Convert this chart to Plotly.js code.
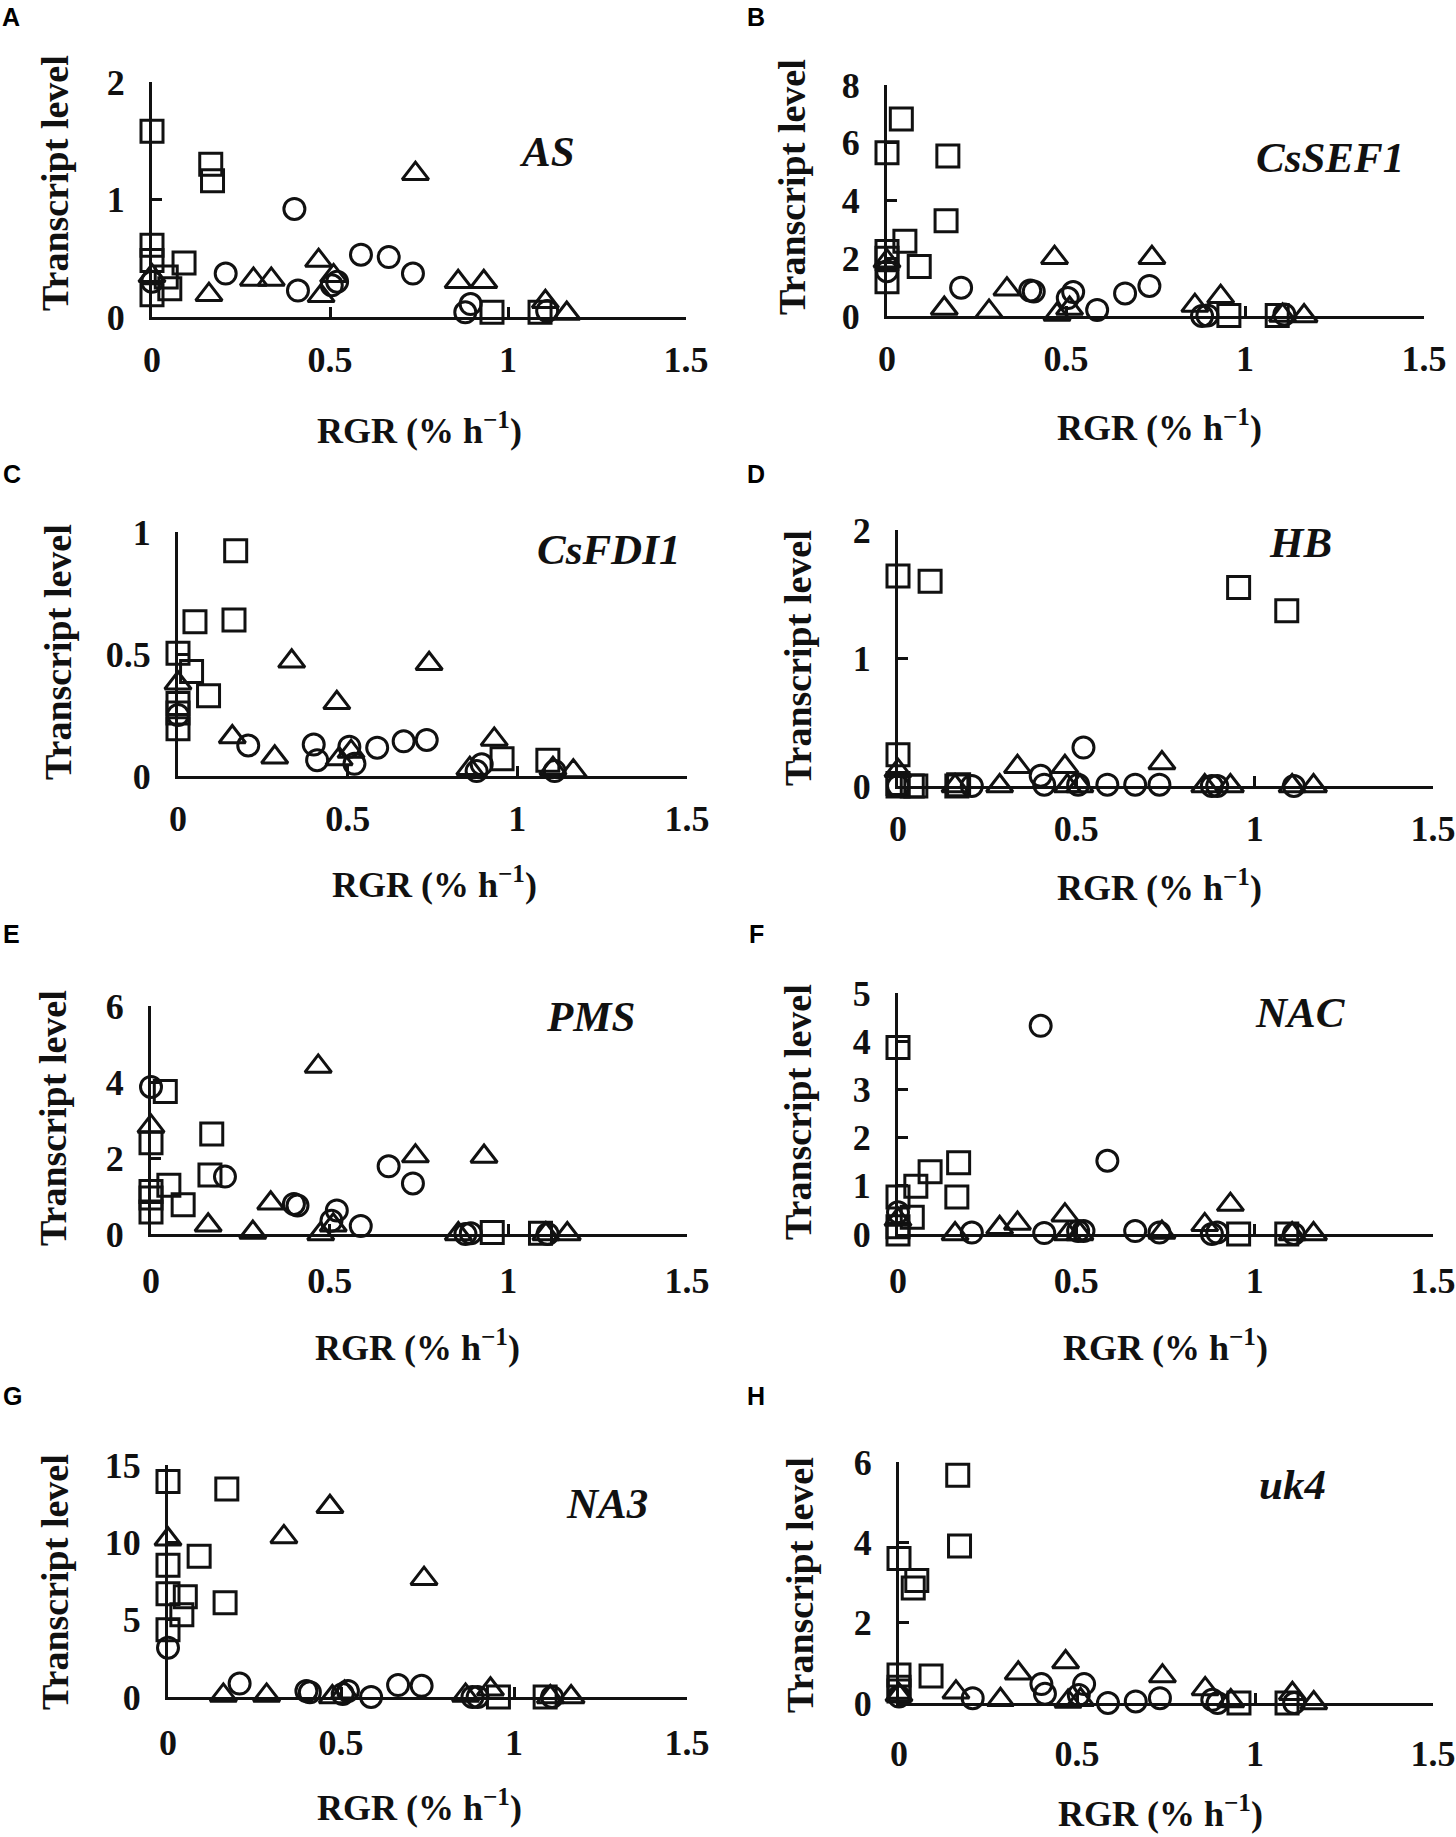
<!DOCTYPE html>
<html><head><meta charset="utf-8">
<script src="https://cdn.plot.ly/plotly-3.0.1.min.js"></script>
<style>html,body{margin:0;padding:0;background:#fff}</style>
</head><body><div id="chart" style="width:1456px;height:1837px"></div>
<script>
// RGR (% h-1) values shared by the samples of each symbol group
const SQ_X = [0, 0, 0, 0, 0.04, 0.05, 0.09, 0.165, 0.17, 0.955, 1.09];
const CI_X = [0, 0.207, 0.40, 0.41, 0.505, 0.52, 0.587, 0.665, 0.733, 0.88, 0.895, 1.11];
const TR_X = [0, 0.16, 0.285, 0.335, 0.468, 0.475, 0.51, 0.74, 0.86, 0.932, 1.105, 1.165];

// Transcript levels per gene: squares, circles, triangles
const AS_SQ = [1.58, 0.61, 0.48, 0.19, 0.34, 0.24, 0.46, 1.30, 1.16, 0.04, 0.04];
const AS_CI = [0.30, 0.37, 0.92, 0.225, 0.27, 0.30, 0.53, 0.51, 0.37, 0.04, 0.11, 0.05];
const AS_TR = [0.35, 0.19, 0.32, 0.32, 0.48, 0.18, 0.35, 1.22, 0.30, 0.30, 0.13, 0.03];

const SEF_SQ = [5.65, 2.23, 2.0, 1.19, 6.82, 2.59, 1.71, 3.30, 5.54, 0.02, 0.02];
const SEF_CI = [1.55, 0.98, 0.88, 0.85, 0.62, 0.83, 0.21, 0.78, 1.04, 0.0, 0.02, 0.05];
const SEF_TR = [1.9, 0.26, 0.16, 0.93, 2.02, 0.05, 0.26, 2.02, 0.36, 0.67, 0.02, 0.0];

const FDI_SQ = [0.503, 0.297, 0.258, 0.194, 0.428, 0.632, 0.329, 0.639, 0.923, 0.071, 0.065];
const FDI_CI = [0.25, 0.125, 0.129, 0.065, 0.12, 0.05, 0.116, 0.142, 0.148, 0.02, 0.048, 0.02];
const FDI_TR = [0.38, 0.16, 0.077, 0.47, 0.30, 0.07, 0.10, 0.46, 0.03, 0.15, 0.03, 0.02];

const HB_SQ = [1.64, 0.245, 0.0, 0.02, 0.0, 0.0, 1.60, 0.0, 0.01, 1.55, 1.37];
const HB_CI = [0.0, 0.0, 0.08, 0.01, 0.01, 0.30, 0.01, 0.01, 0.01, 0.0, 0.0, 0.0];
const HB_TR = [0.12, 0.0, 0.0, 0.15, 0.15, 0.0, 0.0, 0.18, 0.0, 0.0, 0.0, 0.0];

const PMS_SQ = [2.40, 1.12, 0.95, 0.58, 3.75, 1.28, 0.77, 1.55, 2.63, 0.04, 0.02];
const PMS_CI = [3.87, 1.51, 0.79, 0.75, 0.35, 0.62, 0.21, 1.78, 1.33, 0.0, 0.02, 0.0];
const PMS_TR = [2.83, 0.23, 0.04, 0.81, 4.41, 0.0, 0.23, 2.05, 0.0, 2.04, 0.0, 0.0];

const NAC_SQ = [3.87, 0.77, 0.15, 0.0, 0.35, 0.99, 1.29, 0.77, 1.48, 0.0, 0.0];
const NAC_CI = [0.45, 0.03, 4.32, 0.02, 0.06, 0.06, 1.52, 0.06, 0.03, 0.0, 0.03, 0.0];
const NAC_TR = [0.3, 0.0, 0.13, 0.22, 0.39, 0.0, 0.0, 0.03, 0.19, 0.61, 0.0, 0.0];

const NA3_SQ = [13.93, 8.52, 6.68, 4.35, 5.32, 6.48, 9.10, 6.10, 13.45, 0.0, 0.0];
const NA3_CI = [3.19, 0.87, 0.39, 0.30, 0.20, 0.39, 0.0, 0.77, 0.72, 0.0, 0.0, 0.0];
const NA3_TR = [10.2, 0.1, 0.1, 10.35, 12.3, 0.0, 0.3, 7.65, 0.1, 0.5, 0.0, 0.0];

const UK4_SQ = [3.6, 0.70, 0.39, 0.30, 2.86, 3.05, 0.67, 5.67, 3.91, 0.0, 0.0];
const UK4_CI = [0.16, 0.12, 0.47, 0.23, 0.2, 0.47, 0.0, 0.04, 0.12, 0.08, 0.0, 0.0];
const UK4_TR = [0.2, 0.27, 0.08, 0.74, 1.02, 0.04, 0.08, 0.67, 0.35, 0.05, 0.23, 0.0];

const LETTERS = ['A','B','C','D','E','F','G','H'];
const GENES = ['AS','CsSEF1','CsFDI1','HB','PMS','NAC','NA3','uk4'];
const Y_MAX = [2, 8, 1, 2, 6, 5, 15, 6];
const Y_TICKS = [[0,1,2],[0,2,4,6,8],[0,0.5,1],[0,1,2],[0,2,4,6],[0,1,2,3,4,5],[0,5,10,15],[0,2,4,6]];
const X_TICKS = [0, 0.5, 1, 1.5];
const SERIES = [
  [AS_SQ, AS_CI, AS_TR], [SEF_SQ, SEF_CI, SEF_TR], [FDI_SQ, FDI_CI, FDI_TR], [HB_SQ, HB_CI, HB_TR],
  [PMS_SQ, PMS_CI, PMS_TR], [NAC_SQ, NAC_CI, NAC_TR], [NA3_SQ, NA3_CI, NA3_TR], [UK4_SQ, UK4_CI, UK4_TR]
];
const X_TITLE = 'RGR (% h<sup>\u22121</sup>)';
const Y_TITLE = 'Transcript level';

// ---- layout (pixels) ----
const W = 1456, H = 1837;
// [x at 0, x at 1.5, y top, y at 0]
const BOX = [[152,686,82,317],[887,1424,85,316],[178,687,532,776],[898,1433,530,786],
             [151,687,1006,1234],[898,1433,993,1234],[168,687,1465,1697],[899,1433,1462,1703]];
const X_STANDOFF = [9, 9, 9, 9, 13, 13, 12, 17];
const LETTER_POS = [[11,17],[756,17],[12,474],[756,474],[11,934],[756,934],[12,1396],[756,1396]];
const GENE_POS = [[547,151],[1330,158],[608,550],[1300,543],[590,1016],[1300,1012],[607,1503],[1292,1484]];
const YT_POS = [[55,183],[792,187],[58,652],[798,658],[53,1118],[798,1112],[55,1582],[800,1585]];
const XT_POS = [[420,429],[1159,426],[434,882],[1159,886],[418,1345],[1165,1345],[420,1805],[1160,1811]];

const SERIF = 'Liberation Serif, Times New Roman, serif';
const tickFont = {family: SERIF, size: 36, color: '#111', weight: 'bold'};
const MARKERS = [
  {symbol: 'square-open', size: 22},
  {symbol: 'circle-open', size: 21},
  {symbol: 'triangle-up-open', size: 23}
];
const XS = [SQ_X, CI_X, TR_X];

const traces = [];
const layout = {
  width: W, height: H, margin: {l:0, r:0, t:0, b:0},
  paper_bgcolor: '#fff', plot_bgcolor: 'rgba(0,0,0,0)',
  showlegend: false, annotations: []
};
const px = v => v / W, py = v => 1 - v / H;

for (let i = 0; i < 8; i++) {
  const s = i === 0 ? '' : String(i + 1);
  const [x0, x1, yt, yb] = BOX[i];
  for (let k = 0; k < 3; k++) {
    traces.push({
      type: 'scatter', mode: 'markers', x: XS[k], y: SERIES[i][k],
      xaxis: 'x' + s, yaxis: 'y' + s, cliponaxis: false, hoverinfo: 'x+y',
      marker: {symbol: MARKERS[k].symbol, size: MARKERS[k].size, color: '#111',
               line: {width: 3, color: '#111'}}
    });
  }
  const common = {
    showgrid: false, zeroline: false, showline: true, linecolor: '#111', linewidth: 3,
    ticks: 'inside', ticklen: 10, tickwidth: 3, tickcolor: '#111', tickfont: tickFont,
    fixedrange: true
  };
  layout['xaxis' + s] = Object.assign({}, common, {
    domain: [px(x0), px(x1)], range: [0, 1.5], tickvals: X_TICKS, ticktext: X_TICKS.map(String),
    anchor: 'y' + s, ticklabelstandoff: X_STANDOFF[i]
  });
  layout['yaxis' + s] = Object.assign({}, common, {
    domain: [py(yb), py(yt)], range: [0, Y_MAX[i]], tickvals: Y_TICKS[i], ticktext: Y_TICKS[i].map(String),
    anchor: 'x' + s, ticklabelstandoff: 17
  });
  const A = layout.annotations;
  A.push({text: LETTERS[i], xref:'paper', yref:'paper', x: px(LETTER_POS[i][0]), y: py(LETTER_POS[i][1]),
          xanchor:'center', yanchor:'middle', showarrow:false,
          font:{family:'Liberation Sans, Arial, sans-serif', size:25, color:'#000', weight:'bold'}});
  A.push({text: GENES[i], xref:'paper', yref:'paper', x: px(GENE_POS[i][0]), y: py(GENE_POS[i][1]),
          xanchor:'center', yanchor:'middle', showarrow:false,
          font:{family:SERIF, size:43, color:'#111', weight:'bold', style:'italic'}});
  A.push({text: Y_TITLE, xref:'paper', yref:'paper', x: px(YT_POS[i][0]), y: py(YT_POS[i][1]),
          xanchor:'center', yanchor:'middle', showarrow:false, textangle:-90,
          font:{family:SERIF, size:38, color:'#111', weight:'bold'}});
  A.push({text: X_TITLE, xref:'paper', yref:'paper', x: px(XT_POS[i][0]), y: py(XT_POS[i][1]),
          xanchor:'center', yanchor:'middle', showarrow:false,
          font:{family:SERIF, size:36, color:'#111', weight:'bold'}});
}

Plotly.newPlot('chart', traces, layout, {displayModeBar: false, staticPlot: true});
</script>
</body></html>
